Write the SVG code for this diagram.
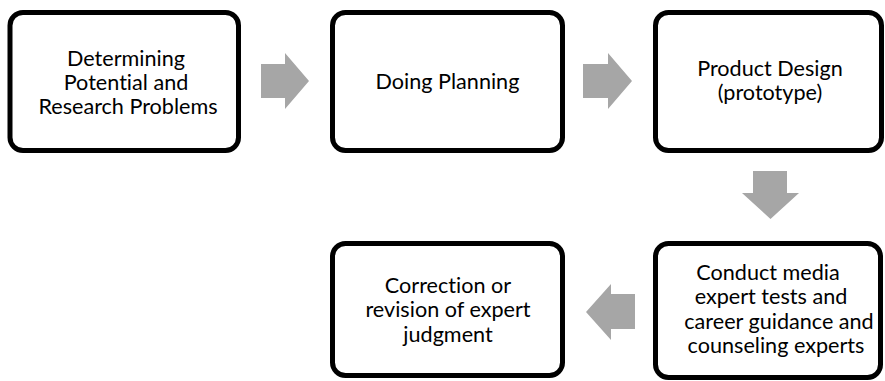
<svg xmlns="http://www.w3.org/2000/svg" width="885" height="381" viewBox="0 0 885 381">
<style>
.box{fill:#fff;stroke:#000;stroke-width:5}
.lbl{font-family:Lato,"Liberation Sans",sans-serif;font-size:21.6px;fill:#000;text-anchor:middle;font-variant-ligatures:none}
.arr{fill:#a6a6a6}
</style>
<rect width="885" height="381" fill="#fff"/>
<g id="connectors">
<polygon class="arr" points="261,64 285,64 285,53 309,81 285,109 285,98 261,98"/>
<polygon class="arr" points="583,64 608,64 608,53 632,81 608,109 608,98 583,98"/>
<polygon class="arr" points="753,171 787,171 787,193 799,193 770.5,219 742,193 753,193"/>
<polygon class="arr" points="635,294 611,294 611,284 586,312 611,340 611,329 635,329"/>
</g>
<g id="n1">
<rect class="box" x="10" y="12.5" width="228.5" height="138" rx="13"/>
<text class="lbl" x="126" y="66">Determining</text>
<text class="lbl" x="126" y="90">Potential and</text>
<text class="lbl" x="128" y="114">Research Problems</text>
</g>
<g id="n2">
<rect class="box" x="332.5" y="12.5" width="230" height="138" rx="13"/>
<text class="lbl" x="447.5" y="89">Doing Planning</text>
</g>
<g id="n3">
<rect class="box" x="655.5" y="12.5" width="226" height="138" rx="13"/>
<text class="lbl" x="770" y="76">Product Design</text>
<text class="lbl" x="770" y="100">(prototype)</text>
</g>
<g id="n4">
<rect class="box" x="655.5" y="243.5" width="225" height="134" rx="13"/>
<text class="lbl" x="768" y="280">Conduct media</text>
<text class="lbl" x="771" y="304">expert tests and</text>
<text class="lbl" x="779" y="329">career guidance and</text>
<text class="lbl" x="776" y="353">counseling experts</text>
</g>
<g id="n5">
<rect class="box" x="332.5" y="243.5" width="230" height="132" rx="13"/>
<text class="lbl" x="448" y="293">Correction or</text>
<text class="lbl" x="448" y="317">revision of expert</text>
<text class="lbl" x="448" y="342">judgment</text>
</g>
</svg>
